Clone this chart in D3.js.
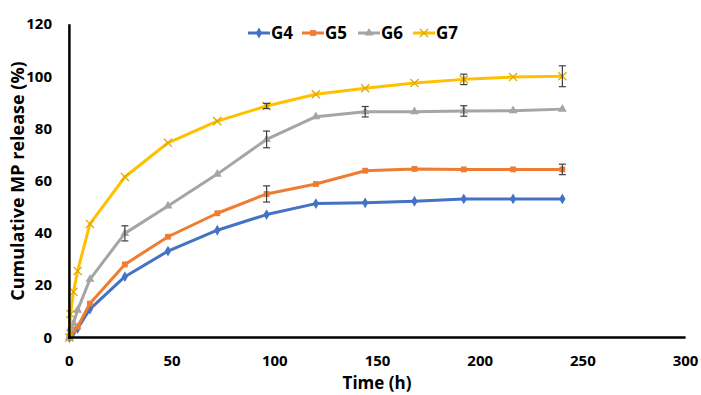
<!DOCTYPE html>
<html>
<head>
<meta charset="utf-8">
<script src="https://cdn.jsdelivr.net/npm/d3@7/dist/d3.min.js"></script>
<style>
  body { margin: 0; background: #fff; }
  svg { display: block; font-family: 'Open Sans', sans-serif; }
</style>
</head>
<body>
<svg id="chart" width="701" height="395"></svg>
<script>
// time points (h) and release values (%)
var times = [0, 0.5, 2, 4, 10, 27, 48, 72, 96, 120, 144, 168, 192, 216, 240];
var g4 = [0, 1.2, 2.2, 3.5, 10.9, 23.3, 33.1, 41.1, 47.1, 51.3, 51.6, 52.2, 53.1, 53.1, 53.1];
var g5 = [0, 1.5, 2.8, 4.1, 13.0, 28.0, 38.6, 47.6, 55.0, 58.8, 63.9, 64.6, 64.4, 64.4, 64.4];
var g6 = [0, 3.5, 5.5, 10.5, 22.3, 39.9, 50.4, 62.6, 75.9, 84.6, 86.5, 86.5, 86.8, 86.9, 87.5];
var g7 = [0, 9.0, 17.5, 25.5, 43.5, 61.5, 74.6, 82.9, 88.7, 93.2, 95.5, 97.5, 98.9, 99.8, 100.1];
// error bars (+/-), 0 = not shown
var e4 = [0, 0, 0, 0, 0, 0, 0, 0, 0, 0, 0, 0, 0, 0, 0];
var e5 = [0, 0, 0, 0, 0, 0, 0, 0, 3.1, 0, 0, 0, 0, 0, 2.0];
var e6 = [0, 0, 0, 0, 0, 2.9, 0, 0, 3.2, 0, 2.0, 0, 2.0, 0, 0];
var e7 = [0, 0, 0, 0, 0, 0, 0, 0, 1.0, 0, 0, 0, 2.0, 0, 4.0];
var seriesNames = ['G4', 'G5', 'G6', 'G7'];
var xTicks = [0, 50, 100, 150, 200, 250, 300];
var yTicks = [0, 20, 40, 60, 80, 100, 120];

var colors = ['#4472C4', '#ED7D31', '#A5A5A5', '#FFC000'];
var symbols = [d3.symbolDiamond, d3.symbolSquare, d3.symbolTriangle, d3.symbolTimes];

var series = [g4, g5, g6, g7].map(function(vals, i) {
  var errs = [e4, e5, e6, e7][i];
  return {
    name: seriesNames[i],
    points: times.map(function(t, j) { return {t: t, v: vals[j], e: errs[j]}; })
  };
});

var svg = d3.select('#chart');
var x = d3.scaleLinear().domain([0, 300]).range([69.4, 685.6]);
var y = d3.scaleLinear().domain([0, 120]).range([337.5, 24.3]);

function drawMarker(sel, i) {
  if (i == 3) {
    sel.attr('d', d3.symbol().type(symbols[i]).size(45)())
      .attr('fill', 'none')
      .attr('stroke', '#E0A800')
      .attr('stroke-width', 1.3);
  } else {
    sel.attr('d', d3.symbol().type(symbols[i]).size(34)())
      .attr('fill', colors[i])
      .attr('stroke', 'none');
  }
}

// axis labels
svg.append('g').selectAll('text').data(xTicks).enter().append('text')
  .attr('x', function(d) { return x(d); })
  .attr('y', 366)
  .attr('text-anchor', 'middle')
  .attr('font-size', 15).attr('font-weight', 'bold').attr('fill', '#000')
  .text(function(d) { return d; });

svg.append('g').selectAll('text').data(yTicks).enter().append('text')
  .attr('x', 52)
  .attr('y', function(d) { return y(d) + 5; })
  .attr('text-anchor', 'end')
  .attr('font-size', 15).attr('font-weight', 'bold').attr('fill', '#000')
  .text(function(d) { return d; });

svg.append('text')
  .attr('x', 377).attr('y', 389)
  .attr('text-anchor', 'middle')
  .attr('font-size', 17).attr('font-weight', 'bold')
  .text('Time (h)');

svg.append('text')
  .attr('transform', 'translate(24,181) rotate(-90)')
  .attr('text-anchor', 'middle')
  .attr('font-size', 18).attr('font-weight', 'bold')
  .text('Cumulative MP release (%)');

// series
var line = d3.line().x(function(d) { return x(d.t); }).y(function(d) { return y(d.v); });

series.forEach(function(s, i) {
  var g = svg.append('g');
  g.append('path')
    .attr('d', line(s.points))
    .attr('fill', 'none')
    .attr('stroke', colors[i])
    .attr('stroke-width', 3)
    .attr('stroke-linejoin', 'round');

  g.selectAll('.m').data(s.points).enter().append('path')
    .attr('transform', function(d) { return 'translate(' + x(d.t) + ',' + y(d.v) + ')'; })
    .call(drawMarker, i);

  var eb = g.selectAll('.eb').data(s.points.filter(function(d) { return d.e > 0; })).enter().append('g')
    .attr('stroke', '#404040').attr('stroke-width', 1.2);
  eb.append('line')
    .attr('x1', function(d) { return x(d.t); }).attr('x2', function(d) { return x(d.t); })
    .attr('y1', function(d) { return y(d.v - d.e); }).attr('y2', function(d) { return y(d.v + d.e); });
  eb.append('line')
    .attr('x1', function(d) { return x(d.t) - 3.5; }).attr('x2', function(d) { return x(d.t) + 3.5; })
    .attr('y1', function(d) { return y(d.v - d.e); }).attr('y2', function(d) { return y(d.v - d.e); });
  eb.append('line')
    .attr('x1', function(d) { return x(d.t) - 3.5; }).attr('x2', function(d) { return x(d.t) + 3.5; })
    .attr('y1', function(d) { return y(d.v + d.e); }).attr('y2', function(d) { return y(d.v + d.e); });
});

// axis lines
svg.append('line')
  .attr('x1', x(0)).attr('x2', x(0)).attr('y1', y(120)).attr('y2', y(0) + 1.5)
  .attr('stroke', '#000').attr('stroke-width', 2.5);
svg.append('line')
  .attr('x1', x(0) - 1.25).attr('x2', x(300)).attr('y1', y(0)).attr('y2', y(0))
  .attr('stroke', '#000').attr('stroke-width', 2.5);

// legend
var legendX = [248, 302, 358, 413];
var legend = svg.append('g').selectAll('g').data(series).enter().append('g')
  .attr('transform', function(d, i) { return 'translate(' + legendX[i] + ',33)'; });
legend.append('line')
  .attr('x1', 0).attr('x2', 22).attr('y1', 0).attr('y2', 0)
  .attr('stroke', function(d, i) { return colors[i]; })
  .attr('stroke-width', 3);
legend.each(function(d, i) {
  d3.select(this).append('path')
    .attr('transform', 'translate(11,0)')
    .call(drawMarker, i);
});
legend.append('text')
  .attr('x', 23).attr('y', 6)
  .attr('font-size', 17).attr('font-weight', 'bold')
  .text(function(d) { return d.name; });
</script>
</body>
</html>
